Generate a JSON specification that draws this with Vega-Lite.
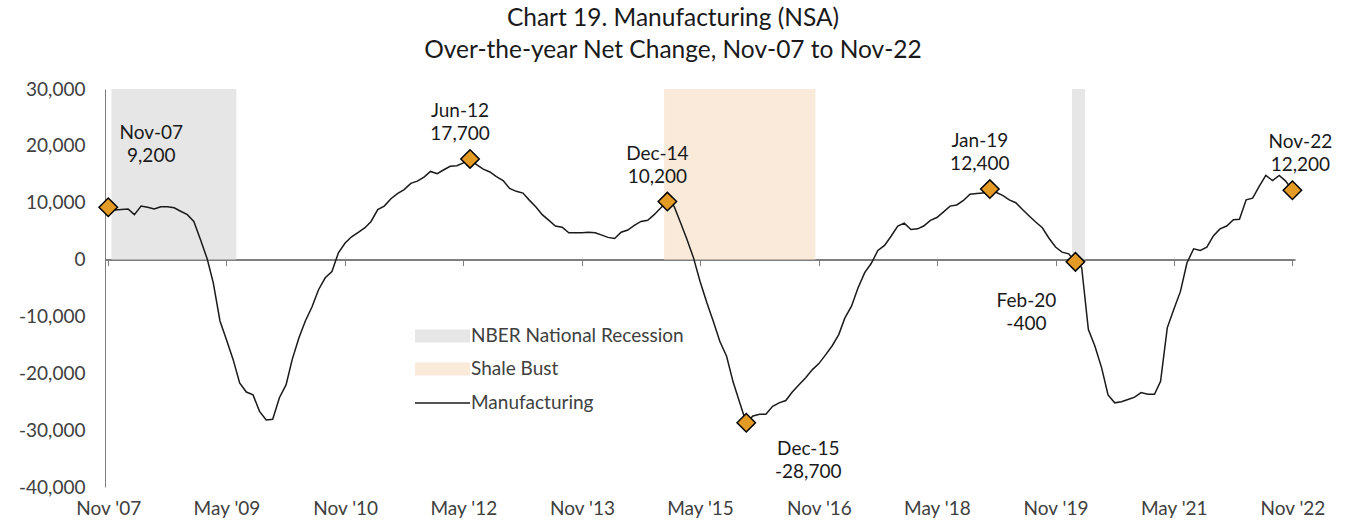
{
  "$schema": "https://vega.github.io/schema/vega-lite/v6.json",
  "width": 1190,
  "height": 398,
  "autosize": {"type": "none"},
  "padding": {"left": 105, "top": 89, "right": 52, "bottom": 37},
  "background": "white",
  "title": {
    "text": ["Chart 19. Manufacturing (NSA)", "Over-the-year Net Change, Nov-07 to Nov-22"],
    "font": "Lato",
    "fontSize": 24.5,
    "fontWeight": "normal",
    "color": "#1a1a1a",
    "lineHeight": 32,
    "anchor": "middle",
    "dx": -27,
    "offset": 17
  },
  "config": {
    "view": {"stroke": null},
    "font": "Lato",
    "axisY": {
      "domainColor": "#7f7f7f",
      "domainWidth": 1,
      "ticks": false,
      "grid": false,
      "labelFont": "Lato",
      "labelFontSize": 19,
      "labelColor": "#404040",
      "labelPadding": 20
    }
  },
  "datasets": {
    "series": [
      {"d": "2007-11-01", "v": 9200}, {"d": "2007-12-01", "v": 8700}, {"d": "2008-01-01", "v": 8800},
      {"d": "2008-02-01", "v": 8900}, {"d": "2008-03-01", "v": 7900}, {"d": "2008-04-01", "v": 9400},
      {"d": "2008-05-01", "v": 9200}, {"d": "2008-06-01", "v": 8900}, {"d": "2008-07-01", "v": 9300},
      {"d": "2008-08-01", "v": 9300}, {"d": "2008-09-01", "v": 9100}, {"d": "2008-10-01", "v": 8500},
      {"d": "2008-11-01", "v": 7900}, {"d": "2008-12-01", "v": 6700}, {"d": "2009-01-01", "v": 3500},
      {"d": "2009-02-01", "v": 100}, {"d": "2009-03-01", "v": -4100}, {"d": "2009-04-01", "v": -10800},
      {"d": "2009-05-01", "v": -14100}, {"d": "2009-06-01", "v": -17600}, {"d": "2009-07-01", "v": -21700},
      {"d": "2009-08-01", "v": -23300}, {"d": "2009-09-01", "v": -23800}, {"d": "2009-10-01", "v": -26700},
      {"d": "2009-11-01", "v": -28200}, {"d": "2009-12-01", "v": -28100}, {"d": "2010-01-01", "v": -24300},
      {"d": "2010-02-01", "v": -22000}, {"d": "2010-03-01", "v": -17600}, {"d": "2010-04-01", "v": -13800},
      {"d": "2010-05-01", "v": -10800}, {"d": "2010-06-01", "v": -8300}, {"d": "2010-07-01", "v": -5300},
      {"d": "2010-08-01", "v": -3200}, {"d": "2010-09-01", "v": -2100}, {"d": "2010-10-01", "v": 1200},
      {"d": "2010-11-01", "v": 2900}, {"d": "2010-12-01", "v": 4000}, {"d": "2011-01-01", "v": 4800},
      {"d": "2011-02-01", "v": 5600}, {"d": "2011-03-01", "v": 6700}, {"d": "2011-04-01", "v": 8800},
      {"d": "2011-05-01", "v": 9400}, {"d": "2011-06-01", "v": 10700}, {"d": "2011-07-01", "v": 11600},
      {"d": "2011-08-01", "v": 12300}, {"d": "2011-09-01", "v": 13400}, {"d": "2011-10-01", "v": 13800},
      {"d": "2011-11-01", "v": 14500}, {"d": "2011-12-01", "v": 15500}, {"d": "2012-01-01", "v": 15100},
      {"d": "2012-02-01", "v": 15800}, {"d": "2012-03-01", "v": 16400}, {"d": "2012-04-01", "v": 16500},
      {"d": "2012-05-01", "v": 17000}, {"d": "2012-06-01", "v": 17700}, {"d": "2012-07-01", "v": 16700},
      {"d": "2012-08-01", "v": 15900}, {"d": "2012-09-01", "v": 15400}, {"d": "2012-10-01", "v": 14600},
      {"d": "2012-11-01", "v": 13900}, {"d": "2012-12-01", "v": 12500}, {"d": "2013-01-01", "v": 12000},
      {"d": "2013-02-01", "v": 11700}, {"d": "2013-03-01", "v": 10500}, {"d": "2013-04-01", "v": 9300},
      {"d": "2013-05-01", "v": 7900}, {"d": "2013-06-01", "v": 6900}, {"d": "2013-07-01", "v": 5900},
      {"d": "2013-08-01", "v": 5700}, {"d": "2013-09-01", "v": 4700}, {"d": "2013-10-01", "v": 4700},
      {"d": "2013-11-01", "v": 4700}, {"d": "2013-12-01", "v": 4800}, {"d": "2014-01-01", "v": 4700},
      {"d": "2014-02-01", "v": 4300}, {"d": "2014-03-01", "v": 3900}, {"d": "2014-04-01", "v": 3700},
      {"d": "2014-05-01", "v": 4800}, {"d": "2014-06-01", "v": 5200}, {"d": "2014-07-01", "v": 6000},
      {"d": "2014-08-01", "v": 6700}, {"d": "2014-09-01", "v": 6900}, {"d": "2014-10-01", "v": 7900},
      {"d": "2014-11-01", "v": 9100}, {"d": "2014-12-01", "v": 10200}, {"d": "2015-01-01", "v": 9400},
      {"d": "2015-02-01", "v": 6400}, {"d": "2015-03-01", "v": 3600}, {"d": "2015-04-01", "v": 300},
      {"d": "2015-05-01", "v": -3800}, {"d": "2015-06-01", "v": -7500}, {"d": "2015-07-01", "v": -10800},
      {"d": "2015-08-01", "v": -14400}, {"d": "2015-09-01", "v": -17000}, {"d": "2015-10-01", "v": -21500},
      {"d": "2015-11-01", "v": -25200}, {"d": "2015-12-01", "v": -28700}, {"d": "2016-01-01", "v": -27500},
      {"d": "2016-02-01", "v": -27200}, {"d": "2016-03-01", "v": -27200}, {"d": "2016-04-01", "v": -25800},
      {"d": "2016-05-01", "v": -25200}, {"d": "2016-06-01", "v": -24800}, {"d": "2016-07-01", "v": -23300},
      {"d": "2016-08-01", "v": -22000}, {"d": "2016-09-01", "v": -20800}, {"d": "2016-10-01", "v": -19400},
      {"d": "2016-11-01", "v": -18300}, {"d": "2016-12-01", "v": -16800}, {"d": "2017-01-01", "v": -15200},
      {"d": "2017-02-01", "v": -13200}, {"d": "2017-03-01", "v": -10300}, {"d": "2017-04-01", "v": -8200},
      {"d": "2017-05-01", "v": -5000}, {"d": "2017-06-01", "v": -2300}, {"d": "2017-07-01", "v": -700},
      {"d": "2017-08-01", "v": 1600}, {"d": "2017-09-01", "v": 2500}, {"d": "2017-10-01", "v": 4100},
      {"d": "2017-11-01", "v": 5900}, {"d": "2017-12-01", "v": 6400}, {"d": "2018-01-01", "v": 5300},
      {"d": "2018-02-01", "v": 5400}, {"d": "2018-03-01", "v": 5900}, {"d": "2018-04-01", "v": 6900},
      {"d": "2018-05-01", "v": 7400}, {"d": "2018-06-01", "v": 8400}, {"d": "2018-07-01", "v": 9400},
      {"d": "2018-08-01", "v": 9600}, {"d": "2018-09-01", "v": 10400}, {"d": "2018-10-01", "v": 11500},
      {"d": "2018-11-01", "v": 11600}, {"d": "2018-12-01", "v": 11700}, {"d": "2019-01-01", "v": 12400},
      {"d": "2019-02-01", "v": 11800}, {"d": "2019-03-01", "v": 11300}, {"d": "2019-04-01", "v": 10500},
      {"d": "2019-05-01", "v": 10000}, {"d": "2019-06-01", "v": 8800}, {"d": "2019-07-01", "v": 7700},
      {"d": "2019-08-01", "v": 6600}, {"d": "2019-09-01", "v": 5600}, {"d": "2019-10-01", "v": 3800},
      {"d": "2019-11-01", "v": 2200}, {"d": "2019-12-01", "v": 1300}, {"d": "2020-01-01", "v": 1000},
      {"d": "2020-02-01", "v": -400}, {"d": "2020-03-01", "v": -1400}, {"d": "2020-04-01", "v": -12300},
      {"d": "2020-05-01", "v": -15200}, {"d": "2020-06-01", "v": -19000}, {"d": "2020-07-01", "v": -23800},
      {"d": "2020-08-01", "v": -25200}, {"d": "2020-09-01", "v": -25000}, {"d": "2020-10-01", "v": -24600},
      {"d": "2020-11-01", "v": -24200}, {"d": "2020-12-01", "v": -23400}, {"d": "2021-01-01", "v": -23700},
      {"d": "2021-02-01", "v": -23700}, {"d": "2021-03-01", "v": -21400}, {"d": "2021-04-01", "v": -12000},
      {"d": "2021-05-01", "v": -8800}, {"d": "2021-06-01", "v": -5600}, {"d": "2021-07-01", "v": -600},
      {"d": "2021-08-01", "v": 1900}, {"d": "2021-09-01", "v": 1600}, {"d": "2021-10-01", "v": 2200},
      {"d": "2021-11-01", "v": 4200}, {"d": "2021-12-01", "v": 5400}, {"d": "2022-01-01", "v": 5900},
      {"d": "2022-02-01", "v": 7000}, {"d": "2022-03-01", "v": 7100}, {"d": "2022-04-01", "v": 10500},
      {"d": "2022-05-01", "v": 10800}, {"d": "2022-06-01", "v": 12900}, {"d": "2022-07-01", "v": 14800},
      {"d": "2022-08-01", "v": 13900}, {"d": "2022-09-01", "v": 14800}, {"d": "2022-10-01", "v": 13800},
      {"d": "2022-11-01", "v": 12200}
    ],
    "periods": [
      {"period": "NBER National Recession", "start": "2007-11-16", "end": "2009-06-16"},
      {"period": "Shale Bust", "start": "2014-11-16", "end": "2016-10-16"},
      {"period": "NBER National Recession", "start": "2020-01-16", "end": "2020-03-16"}
    ],
    "peaks": [
      {"d": "2007-11-01", "v": 9200, "name": "Nov-07", "label": "Nov-07\n9,200"},
      {"d": "2012-06-01", "v": 17700, "name": "Jun-12", "label": "Jun-12\n17,700"},
      {"d": "2014-12-01", "v": 10200, "name": "Dec-14", "label": "Dec-14\n10,200"},
      {"d": "2015-12-01", "v": -28700, "name": "Dec-15", "label": "Dec-15\n-28,700"},
      {"d": "2019-01-01", "v": 12400, "name": "Jan-19", "label": "Jan-19\n12,400"},
      {"d": "2020-02-01", "v": -400, "name": "Feb-20", "label": "Feb-20\n-400"},
      {"d": "2022-11-01", "v": 12200, "name": "Nov-22", "label": "Nov-22\n12,200"}
    ]
  },
  "layer": [
    {
      "data": {"name": "periods"},
      "mark": {"type": "rect"},
      "encoding": {
        "x": {
          "field": "start", "type": "temporal",
          "scale": {"type": "utc", "domain": [{"year": 2007, "month": 10, "date": 17, "utc": true}, {"year": 2022, "month": 11, "date": 13, "utc": true}]},
          "axis": {
            "orient": "bottom", "domain": false, "ticks": false, "grid": false, "title": null,
            "labelExpr": "utcFormat(datum.value, \"%b '%y\")",
            "labelFont": "Lato", "labelFontSize": 19, "labelColor": "#404040", "labelPadding": 12,
            "labelOverlap": false, "labelFlush": false,
            "values": [
              {"year": 2007, "month": 11, "date": 1, "utc": true}, {"year": 2009, "month": 5, "date": 1, "utc": true},
              {"year": 2010, "month": 11, "date": 1, "utc": true}, {"year": 2012, "month": 5, "date": 1, "utc": true},
              {"year": 2013, "month": 11, "date": 1, "utc": true}, {"year": 2015, "month": 5, "date": 1, "utc": true},
              {"year": 2016, "month": 11, "date": 1, "utc": true}, {"year": 2018, "month": 5, "date": 1, "utc": true},
              {"year": 2019, "month": 11, "date": 1, "utc": true}, {"year": 2021, "month": 5, "date": 1, "utc": true},
              {"year": 2022, "month": 11, "date": 1, "utc": true}
            ]
          }
        },
        "x2": {"field": "end"},
        "y": {
          "datum": 30000, "type": "quantitative",
          "scale": {"domain": [-40000, 30000], "nice": false},
          "axis": {"title": null, "labelExpr": "replace(format(datum.value, ','), '−', '-')", "values": [-40000, -30000, -20000, -10000, 0, 10000, 20000, 30000]}
        },
        "y2": {"datum": 0},
        "fill": {
          "field": "period", "type": "nominal",
          "scale": {"domain": ["NBER National Recession", "Shale Bust"], "range": ["#e6e6e6", "#f9eada"]},
          "legend": {
            "orient": "none", "legendX": 328, "legendY": 237.5, "title": null, "direction": "vertical",
            "symbolType": "M-4.23,-1H4.23V1H-4.23Z", "symbolSize": 169, "symbolStrokeWidth": 0,
            "labelFont": "Lato", "labelFontSize": 19, "labelColor": "#404040", "labelOffset": 19, "labelLimit": 400, "rowPadding": 13
          }
        }
      }
    },
    {
      "data": {"name": "series"},
      "mark": {"type": "line", "strokeWidth": 1.5, "interpolate": "linear"},
      "encoding": {
        "x": {
          "field": "d", "type": "temporal",
          "scale": {"type": "utc", "domain": [{"year": 2007, "month": 10, "date": 17, "utc": true}, {"year": 2022, "month": 11, "date": 13, "utc": true}]},
          "axis": {
            "orient": "bottom", "offset": -227.4, "labels": false, "domain": true, "domainColor": "#7f7f7f", "domainWidth": 2,
            "ticks": true, "tickColor": "#7f7f7f", "tickSize": 6, "tickWidth": 1, "grid": false, "title": null,
            "values": [
              {"year": 2007, "month": 11, "date": 1, "utc": true}, {"year": 2009, "month": 5, "date": 1, "utc": true},
              {"year": 2010, "month": 11, "date": 1, "utc": true}, {"year": 2012, "month": 5, "date": 1, "utc": true},
              {"year": 2013, "month": 11, "date": 1, "utc": true}, {"year": 2015, "month": 5, "date": 1, "utc": true},
              {"year": 2016, "month": 11, "date": 1, "utc": true}, {"year": 2018, "month": 5, "date": 1, "utc": true},
              {"year": 2019, "month": 11, "date": 1, "utc": true}, {"year": 2021, "month": 5, "date": 1, "utc": true},
              {"year": 2022, "month": 11, "date": 1, "utc": true}
            ]
          }
        },
        "y": {"field": "v", "type": "quantitative", "scale": {"domain": [-40000, 30000], "nice": false},
              "axis": {"title": null, "labelExpr": "replace(format(datum.value, ','), '−', '-')", "values": [-40000, -30000, -20000, -10000, 0, 10000, 20000, 30000]}},
        "stroke": {
          "datum": "Manufacturing", "type": "nominal",
          "scale": {"domain": ["Manufacturing"], "range": ["#1a1a1a"]},
          "legend": {
            "orient": "none", "legendX": 328, "legendY": 304.5, "title": null,
            "symbolType": "M-4.23,0H4.23", "symbolSize": 169, "symbolStrokeWidth": 1.5,
            "labelFont": "Lato", "labelFontSize": 19, "labelColor": "#404040", "labelOffset": 19, "labelLimit": 400
          }
        }
      }
    },
    {
      "data": {"name": "peaks"},
      "mark": {"type": "point", "shape": "diamond", "filled": true, "fill": "#e49b26", "stroke": "#000000", "strokeWidth": 1.5, "size": 340, "opacity": 1},
      "encoding": {
        "x": {"field": "d", "type": "temporal", "scale": {"type": "utc", "domain": [{"year": 2007, "month": 10, "date": 17, "utc": true}, {"year": 2022, "month": 11, "date": 13, "utc": true}]}, "axis": null},
        "y": {"field": "v", "type": "quantitative", "scale": {"domain": [-40000, 30000], "nice": false},
              "axis": {"title": null, "labelExpr": "replace(format(datum.value, ','), '−', '-')", "values": [-40000, -30000, -20000, -10000, 0, 10000, 20000, 30000]}}
      }
    },
    {
      "data": {"name": "peaks"},
      "transform": [{"filter": "datum.name == 'Jun-12' || datum.name == 'Dec-14' || datum.name == 'Jan-19'"}],
      "mark": {"type": "text", "font": "Lato", "fontSize": 19, "color": "#1a1a1a", "lineBreak": "\n", "lineHeight": 23, "align": "center", "baseline": "middle", "dx": -10, "dy": -48},
      "encoding": {
        "x": {"field": "d", "type": "temporal", "scale": {"type": "utc", "domain": [{"year": 2007, "month": 10, "date": 17, "utc": true}, {"year": 2022, "month": 11, "date": 13, "utc": true}]}, "axis": null},
        "y": {"field": "v", "type": "quantitative", "scale": {"domain": [-40000, 30000], "nice": false},
              "axis": {"title": null, "labelExpr": "replace(format(datum.value, ','), '−', '-')", "values": [-40000, -30000, -20000, -10000, 0, 10000, 20000, 30000]}},
        "text": {"field": "label", "type": "nominal"}
      }
    },
    {
      "data": {"name": "peaks"},
      "transform": [{"filter": "datum.name == 'Nov-22'"}],
      "mark": {"type": "text", "font": "Lato", "fontSize": 19, "color": "#1a1a1a", "lineBreak": "\n", "lineHeight": 23, "align": "center", "baseline": "middle", "dx": 8, "dy": -48},
      "encoding": {
        "x": {"field": "d", "type": "temporal", "scale": {"type": "utc", "domain": [{"year": 2007, "month": 10, "date": 17, "utc": true}, {"year": 2022, "month": 11, "date": 13, "utc": true}]}, "axis": null},
        "y": {"field": "v", "type": "quantitative", "scale": {"domain": [-40000, 30000], "nice": false},
              "axis": {"title": null, "labelExpr": "replace(format(datum.value, ','), '−', '-')", "values": [-40000, -30000, -20000, -10000, 0, 10000, 20000, 30000]}},
        "text": {"field": "label", "type": "nominal"}
      }
    },
    {
      "data": {"name": "peaks"},
      "transform": [{"filter": "datum.name == 'Nov-07'"}],
      "mark": {"type": "text", "font": "Lato", "fontSize": 19, "color": "#1a1a1a", "lineBreak": "\n", "lineHeight": 23, "align": "center", "baseline": "middle", "dx": 43, "dy": -74},
      "encoding": {
        "x": {"field": "d", "type": "temporal", "scale": {"type": "utc", "domain": [{"year": 2007, "month": 10, "date": 17, "utc": true}, {"year": 2022, "month": 11, "date": 13, "utc": true}]}, "axis": null},
        "y": {"field": "v", "type": "quantitative", "scale": {"domain": [-40000, 30000], "nice": false},
              "axis": {"title": null, "labelExpr": "replace(format(datum.value, ','), '−', '-')", "values": [-40000, -30000, -20000, -10000, 0, 10000, 20000, 30000]}},
        "text": {"field": "label", "type": "nominal"}
      }
    },
    {
      "data": {"name": "peaks"},
      "transform": [{"filter": "datum.name == 'Dec-15'"}],
      "mark": {"type": "text", "font": "Lato", "fontSize": 19, "color": "#1a1a1a", "lineBreak": "\n", "lineHeight": 23, "align": "center", "baseline": "middle", "dx": 62, "dy": 26},
      "encoding": {
        "x": {"field": "d", "type": "temporal", "scale": {"type": "utc", "domain": [{"year": 2007, "month": 10, "date": 17, "utc": true}, {"year": 2022, "month": 11, "date": 13, "utc": true}]}, "axis": null},
        "y": {"field": "v", "type": "quantitative", "scale": {"domain": [-40000, 30000], "nice": false},
              "axis": {"title": null, "labelExpr": "replace(format(datum.value, ','), '−', '-')", "values": [-40000, -30000, -20000, -10000, 0, 10000, 20000, 30000]}},
        "text": {"field": "label", "type": "nominal"}
      }
    },
    {
      "data": {"name": "peaks"},
      "transform": [{"filter": "datum.name == 'Feb-20'"}],
      "mark": {"type": "text", "font": "Lato", "fontSize": 19, "color": "#1a1a1a", "lineBreak": "\n", "lineHeight": 23, "align": "center", "baseline": "middle", "dx": -49, "dy": 39},
      "encoding": {
        "x": {"field": "d", "type": "temporal", "scale": {"type": "utc", "domain": [{"year": 2007, "month": 10, "date": 17, "utc": true}, {"year": 2022, "month": 11, "date": 13, "utc": true}]}, "axis": null},
        "y": {"field": "v", "type": "quantitative", "scale": {"domain": [-40000, 30000], "nice": false},
              "axis": {"title": null, "labelExpr": "replace(format(datum.value, ','), '−', '-')", "values": [-40000, -30000, -20000, -10000, 0, 10000, 20000, 30000]}},
        "text": {"field": "label", "type": "nominal"}
      }
    }
  ],
  "resolve": {"axis": {"x": "independent"}}
}
